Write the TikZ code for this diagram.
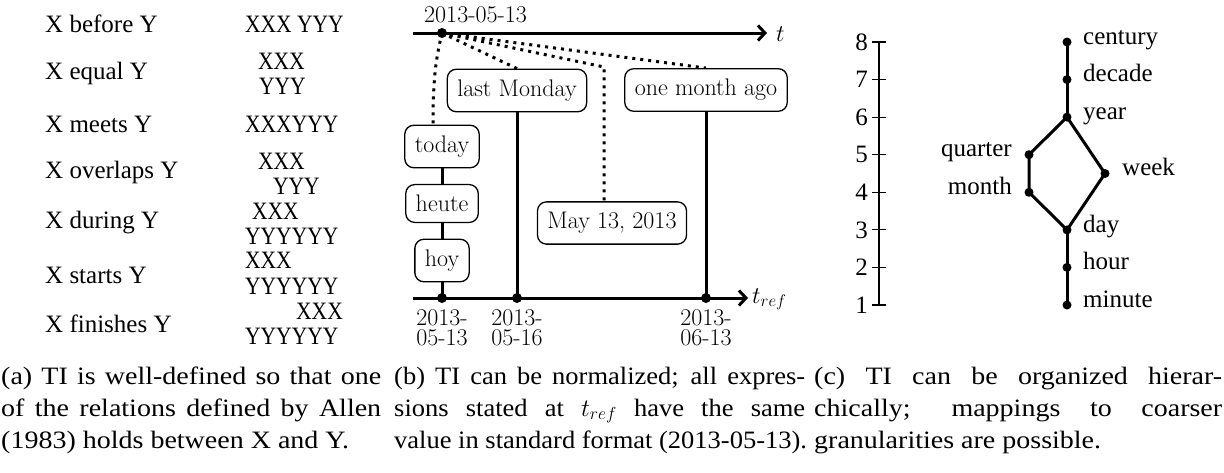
\RequirePackage{fix-cm}
\documentclass[tikz,border=0pt]{standalone}
\usepackage{fontspec}
\newfontfamily\lib{Liberation Serif}
\newfontfamily\libcap[FakeStretch=1.06]{Liberation Serif}
\newfontfamily\libcapw[FakeStretch=1.12]{Liberation Serif}
\newfontfamily\libxy[FakeStretch=0.86]{Liberation Serif}
\usetikzlibrary{arrows.meta,calc,backgrounds}

\begin{document}
\begin{tikzpicture}[x=1pt,y=-1pt,
  every node/.style={inner sep=0pt},
  rel/.style={anchor=base west, font=\lib\fontsize{25}{30}\selectfont},
  pat/.style={anchor=base west, font=\libxy\fontsize{25}{30}\selectfont},
  capline/.style={anchor=base west, font=\libcap\fontsize{25}{32}\selectfont},
  caplinew/.style={anchor=base west, font=\libcapw\fontsize{25}{32}\selectfont},
  tibox/.style={draw, line width=1.3pt, rounded corners=9pt, fill=white,
    inner xsep=10pt, inner ysep=10.5pt, font=\rmfamily\fontsize{24}{28}\selectfont},
  datelab/.style={font=\rmfamily\fontsize{24}{20}\selectfont, align=center},
  timeaxis/.style={line width=3pt, -{Straight Barb[length=7pt,width=15pt]}},
  tie/.style={line width=3pt},
  refline/.style={line width=3pt, dash pattern=on 3pt off 5pt},
  bdot/.style={circle, fill, minimum size=10pt},
  gdot/.style={circle, fill, minimum size=9pt},
  gran/.style={font=\lib\fontsize{25}{30}\selectfont},
  scaleline/.style={line width=1.2pt},
]
\useasboundingbox (0,0) rectangle (1224,472);

% ---------- (a) Allen relations ----------
\node[rel] (l1) at (45,32)  {X before Y};
\node[rel] (l2) at (45,79)  {X equal Y};
\node[rel] (l3) at (45,132) {X meets Y};
\node[rel] (l4) at (45,178) {X overlaps Y};
\node[rel] (l5) at (45,228) {X during Y};
\node[rel] (l6) at (45,283) {X starts Y};
\node[rel] (l7) at (45,332) {X finishes Y};

\node[pat] (p1)  at (245,32)  {XXX YYY};
\node[pat] (p2x) at (258,69)  {XXX};
\node[pat] (p2y) at (259,94)  {YYY};
\node[pat] (p3)  at (245,132) {XXXYYY};
\node[pat] (p4x) at (258,169) {XXX};
\node[pat] (p4y) at (273,194) {YYY};
\node[pat] (p5x) at (252,219) {XXX};
\node[pat] (p5y) at (245,244) {YYYYYY};
\node[pat] (p6x) at (245,268) {XXX};
\node[pat] (p6y) at (245,294) {YYYYYY};
\node[pat, anchor=base east] (p7x) at (343,319) {XXX};
\node[pat] (p7y) at (245,344) {YYYYYY};

% ---------- (b) normalization ----------
\coordinate (tstart) at (413,33);
\coordinate (tend)   at (767,33);
\coordinate (rstart) at (413,298);
\coordinate (rend)   at (748,298);

\node[bdot] (now) at (442,33) {};
\node[bdot] (d1) at (442,298) {};
\node[bdot] (d2) at (517,298) {};
\node[bdot] (d3) at (706,298) {};

\node[font=\rmfamily\fontsize{24}{28}\selectfont, anchor=base west] (nowlab) at (424,22) {2013-05-13};
\node[anchor=west, font=\fontsize{24}{28}\selectfont] (tlab) at (776,34) {$t$};
\node[anchor=base west, font=\fontsize{24}{28}\selectfont] (rlab) at (752,303) {$t_{ref}$};

\node[tibox] (today)    at (442,146.5) {today};
\node[tibox] (heute)    at (442,203.5) {heute};
\node[tibox] (hoy)      at (442,260.5) {hoy};
\node[tibox] (lastmon)  at (517,90.5)  {last Monday};
\node[tibox] (onemonth) at (706,90)    {one month ago};
\node[tibox] (may)      at (612,223)   {May 13, 2013};

\node[datelab, anchor=north] (dl1) at (442,309) {2013-\\05-13};
\node[datelab, anchor=north] (dl2) at (517,309) {2013-\\05-16};
\node[datelab, anchor=north] (dl3) at (706,309) {2013-\\06-13};

\coordinate (maybend) at (604,67);
\coordinate (todayin) at ($(today.north)+(-9,0)$);
\coordinate (mayin)   at ($(may.north)+(-8,0)$);

\begin{pgfonlayer}{background}
  \draw[timeaxis] (tstart) -- (tend);
  \draw[timeaxis] (rstart) -- (rend);
  \draw[refline] (now.center) .. controls (437,55) and (433,72) .. (todayin);
  \draw[refline] (now.center) -- (lastmon.north);
  \draw[refline] (now.center) -- (maybend) -- (mayin);
  \draw[refline] (now.center) -- (onemonth.north);
  \draw[tie] (today) -- (heute);
  \draw[tie] (heute) -- (hoy);
  \draw[tie] (hoy) -- (d1.center);
  \draw[tie] (lastmon) -- (d2.center);
  \draw[tie] (onemonth) -- (d3.center);
\end{pgfonlayer}

% ---------- (c) granularity hierarchy ----------
\coordinate (stop) at (879,42);
\coordinate (sbot) at (879,305);
\draw[scaleline] (stop) -- (sbot);
\foreach \k in {1,...,8} {
  \coordinate (tk\k) at (879,{305-(\k-1)*37.571});
  \draw[scaleline] ($(tk\k)+(-7,0)$) -- ($(tk\k)+(7,0)$);
  \node[gran, anchor=east] (n\k) at ($(tk\k)+(-11,0)$) {\k};
}

\node[gdot] (century) at (1067,42)    {};
\node[gdot] (decade)  at (1067,79.6)  {};
\node[gdot] (year)    at (1067,117.1) {};
\node[gdot] (quarter) at (1029,154.7) {};
\node[gdot] (month)   at (1029,192.3) {};
\node[gdot] (week)    at (1105,173.5) {};
\node[gdot] (day)     at (1067,229.9) {};
\node[gdot] (hour)    at (1067,267.4) {};
\node[gdot] (minute)  at (1067,305)   {};

\node[gran, anchor=mid west] (lcentury) at ($(century)+(16,0)$) {century};
\node[gran, anchor=mid west] (ldecade)  at ($(decade)+(16,0)$)  {decade};
\node[gran, anchor=mid west] (lyear)    at ($(year)+(16,0)$)    {year};
\node[gran, anchor=mid east] (lquarter) at ($(quarter)+(-17,0)$) {quarter};
\node[gran, anchor=mid east] (lmonth)   at ($(month)+(-17,0)$)  {month};
\node[gran, anchor=mid west] (lweek)    at ($(week)+(17,0)$)    {week};
\node[gran, anchor=mid west] (lday)     at ($(day)+(16,0)$)     {day};
\node[gran, anchor=mid west] (lhour)    at ($(hour)+(16,0)$)    {hour};
\node[gran, anchor=mid west] (lminute)  at ($(minute)+(16,0)$)  {minute};

\begin{pgfonlayer}{background}
  \draw[tie] (century.center) -- (decade.center) -- (year.center);
  \draw[tie] (year.center) -- (quarter.center) -- (month.center) -- (day.center);
  \draw[tie] (year.center) -- (week.center) -- (day.center);
  \draw[tie] (day.center) -- (hour.center) -- (minute.center);
\end{pgfonlayer}

% ---------- captions ----------
\node[caplinew] (ca1) at (1,384) {\makebox[380pt][s]{(a) TI is well-defined so that one}};
\node[caplinew] (ca2) at (1,416) {\makebox[380pt][s]{of the relations defined by Allen}};
\node[caplinew] (ca3) at (1,448) {(1983) holds between X and Y.};

\node[capline] (cb1) at (394,384) {\makebox[411pt][s]{(b) TI can be normalized; all expres-}};
\node[capline] (cb2) at (394,416) {\makebox[411pt][s]{sions stated at $t_{ref}$ have the same}};
\node[capline] (cb3) at (394,448) {value in standard format (2013-05-13).};

\node[caplinew] (cc1) at (814,384) {\makebox[408pt][s]{(c) TI can be organized hierar-}};
\node[caplinew] (cc2) at (814,416) {\makebox[408pt][s]{chically; mappings to coarser}};
\node[caplinew] (cc3) at (814,448) {granularities are possible.};
\end{tikzpicture}
\end{document}
